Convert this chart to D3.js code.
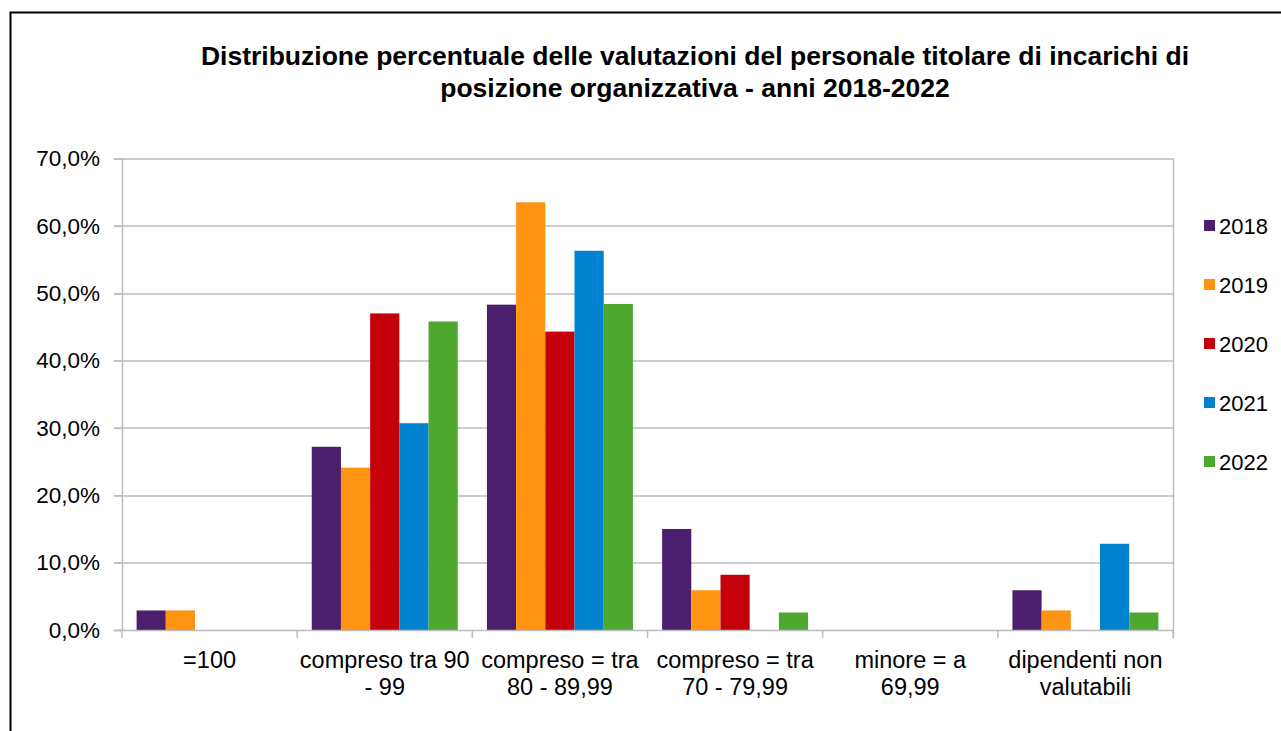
<!DOCTYPE html>
<html>
<head>
<meta charset="utf-8">
<script src="https://cdn.jsdelivr.net/npm/d3@7"></script>
<style>
  body { margin: 0; background: #fff; }
  text { font-family: "Liberation Sans", Arial, sans-serif; fill: #000; }
</style>
</head>
<body>
<div id="chart"></div>
<script>
// data
let categories = ["=100", "compreso tra 90 - 99", "compreso = tra 80 - 89,99", "compreso = tra 70 - 79,99", "minore = a 69,99", "dipendenti non valutabili"];
let catLines = [["=100"], ["compreso tra 90", "- 99"], ["compreso = tra", "80 - 89,99"], ["compreso = tra", "70 - 79,99"], ["minore = a", "69,99"], ["dipendenti non", "valutabili"]];
let years = ["2018", "2019", "2020", "2021", "2022"];
let colors = ["#4b1f6d", "#ff9312", "#c4000b", "#0082ce", "#4ea72e"];
let v2018 = [2.9, 27.2, 48.3, 15.0, 0, 5.9];
let v2019 = [2.9, 24.1, 63.5, 5.9, 0, 2.9];
let v2020 = [0, 47.0, 44.3, 8.2, 0, 0];
let v2021 = [0, 30.7, 56.3, 0, 0, 12.8];
let v2022 = [0, 45.8, 48.4, 2.6, 0, 2.6];
let yTicks = [0, 10, 20, 30, 40, 50, 60, 70];

let series = [v2018, v2019, v2020, v2021, v2022];

let W = 1281, H = 731;
let margin = {top: 158.5, right: 108, bottom: 101, left: 122};
let width = W - margin.left - margin.right;
let height = H - margin.top - margin.bottom;

let svg = d3.select("#chart").append("svg")
    .attr("width", W)
    .attr("height", H);

// outer frame
svg.append("path")
    .attr("d", `M10.5,${H + 2} V12.5 H${W + 2}`)
    .attr("fill", "none")
    .attr("stroke", "#000")
    .attr("stroke-width", 2);

// title
let title = svg.append("text")
    .attr("text-anchor", "middle")
    .attr("font-weight", "bold")
    .attr("font-size", 26.5);
title.append("tspan").attr("x", 695).attr("y", 65)
    .text("Distribuzione percentuale delle valutazioni del personale titolare di incarichi di");
title.append("tspan").attr("x", 695).attr("y", 97)
    .text("posizione organizzativa - anni 2018-2022");

let g = svg.append("g")
    .attr("transform", `translate(${margin.left}, ${margin.top})`);

let x0 = d3.scaleBand().domain(categories).range([0, width]).padding(0);
let x1 = d3.scaleBand().domain(years).range([0, x0.bandwidth()]).paddingInner(0).paddingOuter(0.5);
let y = d3.scaleLinear().domain([0, 70]).range([height, 0]);

// gridlines
g.append("g")
    .selectAll("line")
    .data(yTicks.slice(1))
    .join("line")
    .attr("x1", -8).attr("x2", width)
    .attr("y1", d => Math.round(y(d)) + 0.5).attr("y2", d => Math.round(y(d)) + 0.5)
    .attr("stroke", "#bdbdbd")
    .attr("stroke-width", 1.5);

// right border of plot
g.append("line")
    .attr("x1", width + 0.5).attr("x2", width + 0.5)
    .attr("y1", 0).attr("y2", height + 8)
    .attr("stroke", "#bdbdbd").attr("stroke-width", 1.5);

// bars
years.forEach((yr, i) => {
    g.append("g")
        .selectAll("rect")
        .data(series[i])
        .join("rect")
        .attr("x", (d, j) => x0(categories[j]) + x1(yr))
        .attr("y", d => y(d))
        .attr("width", x1.bandwidth())
        .attr("height", d => height - y(d))
        .attr("fill", colors[i]);
});

// y axis
let yAxis = d3.axisLeft(y)
    .tickValues(yTicks)
    .tickSize(8)
    .tickPadding(14)
    .tickFormat(d => d.toFixed(1).replace(".", ",") + "%");
let ya = g.append("g").call(yAxis);
ya.select(".domain").attr("stroke", "#bdbdbd").attr("stroke-width", 1.5);
ya.selectAll(".tick line").attr("stroke", "#bdbdbd").attr("stroke-width", 1.5);
ya.selectAll(".tick text").attr("font-size", 22.5).attr("font-family", "Liberation Sans, Arial, sans-serif").attr("fill", "#000");

// x axis
let xa = g.append("g").attr("transform", `translate(0, ${height})`);
xa.append("line")
    .attr("x1", -8).attr("x2", width)
    .attr("y1", 0.5).attr("y2", 0.5)
    .attr("stroke", "#bdbdbd").attr("stroke-width", 1.5);
xa.selectAll("line.tk")
    .data(d3.range(categories.length + 1))
    .join("line")
    .attr("class", "tk")
    .attr("x1", d => d * x0.step()).attr("x2", d => d * x0.step())
    .attr("y1", 0).attr("y2", 8)
    .attr("stroke", "#bdbdbd").attr("stroke-width", 1.5);

let labels = xa.selectAll("text.cat")
    .data(categories)
    .join("text")
    .attr("class", "cat")
    .attr("text-anchor", "middle")
    .attr("font-size", 23.5);
labels.each(function(d, i) {
    let t = d3.select(this);
    catLines[i].forEach((ln, k) => {
        t.append("tspan")
            .attr("x", x0(d) + x0.bandwidth() / 2)
            .attr("y", 38 + k * 27)
            .text(ln);
    });
});

// legend
let legend = svg.append("g");
years.forEach((yr, i) => {
    let ly = 226 + i * 59;
    legend.append("rect")
        .attr("x", 1204).attr("y", ly - 6)
        .attr("width", 11).attr("height", 11)
        .attr("fill", colors[i]);
    legend.append("text")
        .attr("x", 1219).attr("y", ly + 8)
        .attr("font-size", 22)
        .text(yr);
});
</script>
</body>
</html>
